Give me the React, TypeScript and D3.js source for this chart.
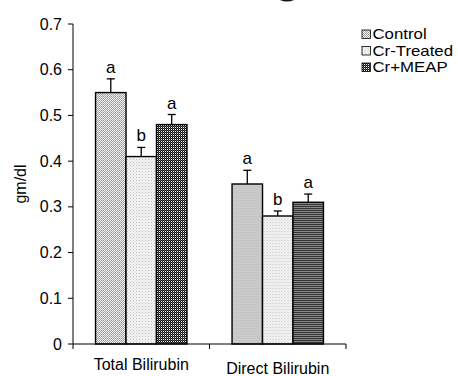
import React from "react";
import * as d3 from "d3";

// Bilirubin levels (gm/dl) per group, with upper error bars and significance letters
const categories = ["Total Bilirubin", "Direct Bilirubin"];
const seriesNames = ["Control", "Cr-Treated", "Cr+MEAP"];
const meanValues = [
  [0.55, 0.41, 0.48],
  [0.35, 0.28, 0.31],
];
const errorValues = [
  [0.03, 0.02, 0.022],
  [0.03, 0.011, 0.018],
];
const groupLetters = [
  ["a", "b", "a"],
  ["a", "b", "a"],
];
const yTicks = [0, 0.1, 0.2, 0.3, 0.4, 0.5, 0.6, 0.7];
const yLabel = "gm/dl";

const W = 458;
const H = 376;
const FONT = "'Liberation Sans', Arial, sans-serif";
const patternIds = ["patControl", "patTreated", "patMeap"];

export default function App() {
  const x0 = d3.scaleBand<string>().domain(categories).range([73, 346]);
  const x1 = d3
    .scaleBand<string>()
    .domain(seriesNames)
    .range([0, x0.bandwidth()])
    .paddingInner(0)
    .paddingOuter(0.74);
  const y = d3.scaleLinear().domain([0, 0.7]).range([344, 24]);
  const axisX = 73;
  const [xa, xb] = x0.range();

  return (
    <svg
      width={W}
      height={H}
      style={{ position: "absolute", left: 0, top: 0, background: "#fff" }}
      fontFamily={FONT}
    >
      <defs>
        <pattern id="patControl" width="2" height="2" patternUnits="userSpaceOnUse">
          <rect width="2" height="2" fill="#f0f0f0" />
          <rect width="1" height="1" fill="#9a9a9a" />
          <rect x="1" y="1" width="1" height="1" fill="#a8a8a8" />
        </pattern>
        <pattern id="patTreated" width="3" height="3" patternUnits="userSpaceOnUse">
          <rect width="3" height="3" fill="#f4f4f4" />
          <rect width="1" height="1" fill="#c0c0c0" />
          <rect x="1.5" y="1.5" width="1" height="1" fill="#d0d0d0" />
        </pattern>
        <pattern id="patMeap" width="2" height="2" patternUnits="userSpaceOnUse">
          <rect width="2" height="2" fill="#ffffff" />
          <rect width="1" height="1" fill="#111" />
          <rect x="1" y="1" width="1" height="1" fill="#111" />
          <rect x="1" y="0" width="1" height="1" fill="#555" />
        </pattern>
      </defs>

      {/* bottom edge of the heading, clipped at the top of the canvas */}
      <path d="M280,0 Q287,3.2 294,0 Z" fill="#111" />

      {/* bars, error whiskers and letters */}
      {categories.map((cat, ci) => (
        <g key={cat} transform={`translate(${x0(cat)},0)`}>
          {seriesNames.map((s, si) => {
            const v = meanValues[ci][si];
            const e = errorValues[ci][si];
            const bx = x1(s)!;
            const bw = x1.bandwidth();
            const cx = bx + bw / 2;
            const top = y(v);
            const et = y(v + e);
            return (
              <g key={s}>
                <rect
                  x={bx}
                  y={top}
                  width={bw}
                  height={y(0) - top}
                  fill={`url(#${patternIds[si]})`}
                  stroke="#000"
                  strokeWidth={1.4}
                />
                <line x1={cx} x2={cx} y1={top} y2={et} stroke="#000" strokeWidth={1.3} />
                <line x1={cx - 4} x2={cx + 4} y1={et} y2={et} stroke="#000" strokeWidth={1.3} />
                <text x={cx} y={et - 6} fontSize={17} textAnchor="middle" fill="#000">
                  {groupLetters[ci][si]}
                </text>
              </g>
            );
          })}
        </g>
      ))}

      {/* y axis */}
      <line x1={axisX} x2={axisX} y1={y(0.7)} y2={y(0)} stroke="#000" strokeWidth={1} />
      {yTicks.map((t) => (
        <g key={t}>
          <line x1={axisX - 5} x2={axisX} y1={y(t)} y2={y(t)} stroke="#000" strokeWidth={1} />
          <text x={axisX - 11} y={y(t) + 5.5} fontSize={16} textAnchor="end" fill="#000">
            {d3.format("~g")(t)}
          </text>
        </g>
      ))}
      <text
        transform={`translate(26,${(y(0) + y(0.7)) / 2}) rotate(-90)`}
        fontSize={16}
        textAnchor="middle"
        fill="#000"
      >
        {yLabel}
      </text>

      {/* x axis */}
      <line x1={xa} x2={xb} y1={y(0)} y2={y(0)} stroke="#000" strokeWidth={1} />
      {[xa, ...categories.map((c) => x0(c)! + x0.bandwidth())].map((tx, i) => (
        <line key={i} x1={tx} x2={tx} y1={y(0)} y2={y(0) + 5} stroke="#000" strokeWidth={1} />
      ))}
      {categories.map((c, i) => (
        <text
          key={c}
          x={x0(c)! + x0.bandwidth() / 2}
          y={370 + i * 4}
          fontSize={16}
          textAnchor="middle"
          fill="#000"
        >
          {c}
        </text>
      ))}

      {/* legend */}
      {seriesNames.map((s, i) => (
        <g key={s} transform={`translate(362,${30 + i * 16.5})`}>
          <rect width={8.5} height={8.5} fill={`url(#${patternIds[i]})`} stroke="#000" strokeWidth={0.8} />
          <text transform="translate(10.5,9) scale(1.2,1)" fontSize={14} fill="#000">
            {s}
          </text>
        </g>
      ))}
    </svg>
  );
}
